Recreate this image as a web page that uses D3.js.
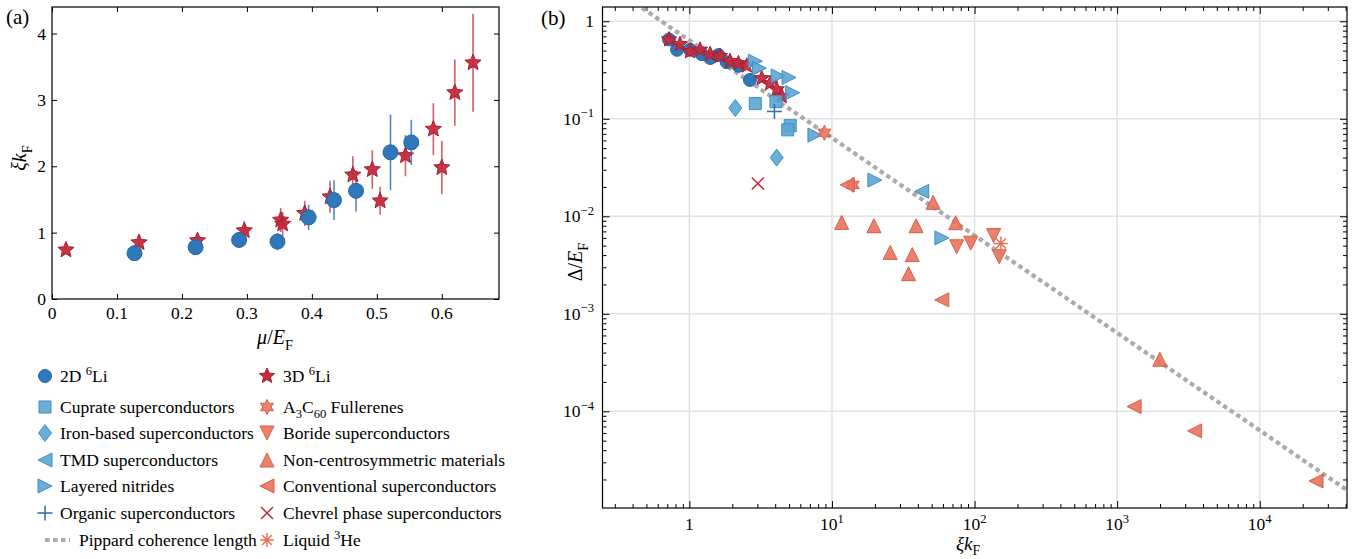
<!DOCTYPE html>
<html><head><meta charset="utf-8">
<script src="https://cdn.jsdelivr.net/npm/d3@7"></script>
<style>body{margin:0;background:#fff} svg{font-family:"Liberation Serif","DejaVu Serif",serif}</style>
</head><body><svg id="c" width="1360" height="559"></svg>
<script>
// ---------- Panel (a) data ----------
const a2d_mu  = [0.127, 0.221, 0.288, 0.347, 0.395, 0.434, 0.468, 0.521, 0.553];
const a2d_xi  = [0.69, 0.78, 0.89, 0.865, 1.23, 1.49, 1.63, 2.21, 2.36];
const a2d_err = [0.04, 0.04, 0.05, 0.13, 0.19, 0.30, 0.31, 0.57, 0.34];
const a3d_mu  = [0.0215, 0.134, 0.224, 0.296, 0.352, 0.355, 0.389, 0.428, 0.463, 0.493, 0.505, 0.544, 0.587, 0.600, 0.620, 0.648];
const a3d_xi  = [0.74, 0.85, 0.88, 1.03, 1.19, 1.13, 1.29, 1.54, 1.87, 1.95, 1.48, 2.16, 2.56, 1.98, 3.11, 3.56];
const a3d_err = [0.04, 0.05, 0.07, 0.14, 0.18, 0.18, 0.19, 0.24, 0.28, 0.29, 0.21, 0.31, 0.39, 0.40, 0.50, 0.74];
const aXTicks = [0, 0.1, 0.2, 0.3, 0.4, 0.5, 0.6];
const aYTicks = [0, 1, 2, 3, 4];

// ---------- Panel (b) data (xi*kF, Delta/EF) ----------
const b2d_xi  = [0.72, 0.82, 1.01, 1.22, 1.40, 1.60, 1.83, 2.21, 2.66];
const b2d_gap = [0.65, 0.51, 0.51, 0.46, 0.42, 0.45, 0.38, 0.35, 0.25];
const b3d_xi  = [0.72, 0.86, 1.01, 1.19, 1.40, 1.64, 1.93, 2.21, 2.53, 3.22, 3.68, 4.10, 4.45];
const b3d_gap = [0.65, 0.58, 0.49, 0.51, 0.46, 0.44, 0.39, 0.37, 0.35, 0.26, 0.23, 0.20, 0.17];
const cuprate_xi  = [2.9, 4.05, 5.1, 4.9];
const cuprate_gap = [0.143, 0.150, 0.085, 0.077];
const iron_xi  = [2.1, 4.1];
const iron_gap = [0.129, 0.040];
const tmd_xi  = [42.6];
const tmd_gap = [0.018];
const nitride_xi  = [2.9, 3.1, 4.2, 5.0, 5.3, 7.6, 20, 59];
const nitride_gap = [0.39, 0.33, 0.275, 0.265, 0.185, 0.068, 0.0235, 0.006];
const organic_xi  = [3.95];
const organic_gap = [0.119];
const fuller_xi  = [8.85, 14.0];
const fuller_gap = [0.0718, 0.021];
const boride_xi  = [74.9, 94.0, 136, 149];
const boride_gap = [0.00487, 0.0053, 0.00634, 0.00385];
const noncent_xi  = [11.7, 19.7, 38.9, 73.7, 51.2, 25.6, 36.6, 34.4, 1990];
const noncent_gap = [0.00865, 0.0080, 0.0080, 0.0086, 0.0139, 0.00426, 0.00405, 0.00258, 0.000342];
const conv_xi  = [12.8, 58.9, 1314, 3493, 24800];
const conv_gap = [0.021, 0.00139, 0.000112, 0.000063, 0.0000193];
const chevrel_xi  = [3.02];
const chevrel_gap = [0.0217];
const he3_xi  = [153];
const he3_gap = [0.00526];
const pippardCoef = 2 / Math.PI;
const bXMajor = [1, 10, 100, 1000, 10000];
const bYMajor = [1, 0.1, 0.01, 0.001, 0.0001];

// ---------- styles ----------
const C2D = "#2f78b9", C2Dedge = "#2765a6";
const C3D = "#c42a3c", C3Dedge = "#a5202f";
const CLB = "#5ba5d2", CLBedge = "#3d8fc4";
const COR = "#e6735d", CORedge = "#d95e47";
const FS = 17.5;

const svg = d3.select("#c");

function starPath(n, ro, ri) {
  let p = "";
  for (let i = 0; i < 2 * n; i++) {
    const r = i % 2 ? ri : ro;
    const a = -Math.PI / 2 + i * Math.PI / n;
    p += (i ? "L" : "M") + (r * Math.cos(a)).toFixed(2) + "," + (r * Math.sin(a)).toFixed(2);
  }
  return p + "Z";
}
function markerPath(type, s) {
  switch (type) {
    case "circle": return d3.symbol(d3.symbolCircle, Math.PI * s * s)();
    case "square": return `M${-s},${-s}H${s}V${s}H${-s}Z`;
    case "diamond": return `M0,${-s * 1.3}L${s},0L0,${s * 1.3}L${-s},0Z`;
    case "up": return `M0,${-s}L${s},${s}L${-s},${s}Z`;
    case "down": return `M0,${s}L${s},${-s}L${-s},${-s}Z`;
    case "left": return `M${-s},0L${s},${-s}L${s},${s}Z`;
    case "right": return `M${s},0L${-s},${-s}L${-s},${s}Z`;
    case "star5": return starPath(5, s, s * 0.45);
    case "star6": return starPath(6, s, s * 0.55);
    case "plus": return `M${-s},0H${s}M0,${-s}V${s}`;
    case "x": return `M${-s},${-s}L${s},${s}M${-s},${s}L${s},${-s}`;
    case "aster": {
      let p = "";
      for (let i = 0; i < 4; i++) { const a = i * Math.PI / 4; p += `M${(-s * Math.cos(a)).toFixed(2)},${(-s * Math.sin(a)).toFixed(2)}L${(s * Math.cos(a)).toFixed(2)},${(s * Math.sin(a)).toFixed(2)}`; }
      return p;
    }
  }
}
function drawMarker(g, type, s, x, y, fill, edge, op) {
  const lineType = (type === "plus" || type === "x" || type === "aster");
  return g.append("path").attr("d", markerPath(type, s))
    .attr("transform", `translate(${x},${y})`)
    .attr("fill", lineType ? "none" : fill)
    .attr("fill-opacity", op)
    .attr("stroke", lineType ? fill : edge)
    .attr("stroke-width", lineType ? 1.5 : 1);
}

// rich text helper: parts [{t, it, sub, sup}]
function rich(sel, parts, size) {
  let shift = 0;
  parts.forEach(p => {
    const ts = sel.append("tspan").text(p.t);
    let target = 0;
    if (p.sub) target = size * 0.28;
    if (p.sup) target = -size * 0.42;
    const dy = target - shift;
    if (dy !== 0) ts.attr("dy", dy);
    shift = target;
    if (p.it) ts.attr("font-style", "italic");
    if (p.sub || p.sup) ts.attr("font-size", size * 0.72);
  });
  return sel;
}

// ================= Panel (a) =================
const xa = d3.scaleLinear().domain([0, 0.688]).range([52, 499]);
const ya = d3.scaleLinear().domain([0, 4.4]).range([299, 7]);
const ga = svg.append("g");

function tickAxis(g, axisFn, scale, ticks, size, transform) {
  const ax = g.append("g").attr("transform", transform)
    .call(axisFn(scale).tickValues(ticks).tickSize(size).tickFormat(""));
  ax.select(".domain").remove();
  ax.selectAll("line").attr("stroke", "#000").attr("stroke-width", 1);
}
tickAxis(ga, d3.axisBottom, xa, aXTicks, -5, "translate(0,299)");
tickAxis(ga, d3.axisTop, xa, aXTicks, -5, "translate(0,7)");
tickAxis(ga, d3.axisLeft, ya, aYTicks, -5, "translate(52,0)");
tickAxis(ga, d3.axisRight, ya, aYTicks, -5, "translate(499,0)");
ga.append("rect").attr("x", 52).attr("y", 7).attr("width", 447).attr("height", 292)
  .attr("fill", "none").attr("stroke", "#000").attr("stroke-width", 1.2);

ga.selectAll(".xl").data(aXTicks).join("text").attr("x", d => xa(d)).attr("y", 319)
  .attr("text-anchor", "middle").attr("font-size", FS).text(d => d === 0 ? "0" : d3.format(".1f")(d));
ga.selectAll(".yl").data(aYTicks).join("text").attr("x", 46).attr("y", d => ya(d) + 6)
  .attr("text-anchor", "end").attr("font-size", FS).text(d => d);

// error bars
a2d_mu.forEach((m, i) => ga.append("line").attr("x1", xa(m)).attr("x2", xa(m))
  .attr("y1", ya(a2d_xi[i] - a2d_err[i])).attr("y2", ya(a2d_xi[i] + a2d_err[i]))
  .attr("stroke", C2D).attr("stroke-width", 1.6).attr("opacity", 0.85));
a3d_mu.forEach((m, i) => ga.append("line").attr("x1", xa(m)).attr("x2", xa(m))
  .attr("y1", ya(a3d_xi[i] - a3d_err[i])).attr("y2", ya(a3d_xi[i] + a3d_err[i]))
  .attr("stroke", C3D).attr("stroke-width", 1.6).attr("opacity", 0.75));
a3d_mu.forEach((m, i) => drawMarker(ga, "star5", 8.5, xa(m), ya(a3d_xi[i]), C3D, C3Dedge, 0.95));
a2d_mu.forEach((m, i) => drawMarker(ga, "circle", 7.5, xa(m), ya(a2d_xi[i]), C2D, C2Dedge, 1));

ga.append("text").attr("x", 6).attr("y", 24).attr("font-size", 21).text("(a)");
rich(ga.append("text").attr("text-anchor", "middle").attr("font-size", 20)
  .attr("transform", "translate(26,158) rotate(-90)"),
  [{t: "ξk", it: true}, {t: "F", sub: true}], 20);
rich(ga.append("text").attr("x", 275).attr("y", 344).attr("text-anchor", "middle").attr("font-size", 20),
  [{t: "μ", it: true}, {t: "/"}, {t: "E", it: true}, {t: "F", sub: true}], 20);

// ================= Panel (b) =================
const xb = d3.scaleLog().domain([0.246, 40900]).range([602.5, 1347]);
const yb = d3.scaleLog().domain([1.02e-5, 1.4]).range([508, 7]);
const gb = svg.append("g");
const L = 602.5, R = 1347, T = 7, B = 508;

// grid
gb.selectAll(".gx").data(bXMajor).join("line").attr("x1", d => xb(d)).attr("x2", d => xb(d))
  .attr("y1", T).attr("y2", B).attr("stroke", "#e2e2e2").attr("stroke-width", 1.5);
gb.selectAll(".gy").data(bYMajor).join("line").attr("y1", d => yb(d)).attr("y2", d => yb(d))
  .attr("x1", L).attr("x2", R).attr("stroke", "#e2e2e2").attr("stroke-width", 1.5);

const xAll = xb.ticks().filter(d => d > 0.246 && d < 40900);
const yAll = yb.ticks().filter(d => d > 1.02e-5 && d < 1.4);
const isMajor = d => Math.abs(Math.log10(d) - Math.round(Math.log10(d))) < 1e-6;
const xMin = xAll.filter(d => !isMajor(d)), yMin = yAll.filter(d => !isMajor(d));
tickAxis(gb, d3.axisBottom, xb, bXMajor, -7, `translate(0,${B})`);
tickAxis(gb, d3.axisTop, xb, bXMajor, -7, `translate(0,${T})`);
tickAxis(gb, d3.axisBottom, xb, xMin, -4, `translate(0,${B})`);
tickAxis(gb, d3.axisTop, xb, xMin, -4, `translate(0,${T})`);
tickAxis(gb, d3.axisLeft, yb, bYMajor, -7, `translate(${L},0)`);
tickAxis(gb, d3.axisRight, yb, bYMajor, -7, `translate(${R},0)`);
tickAxis(gb, d3.axisLeft, yb, yMin, -4, `translate(${L},0)`);
tickAxis(gb, d3.axisRight, yb, yMin, -4, `translate(${R},0)`);

// clip
svg.append("defs").append("clipPath").attr("id", "clipb").append("rect")
  .attr("x", L).attr("y", T).attr("width", R - L).attr("height", B - T);

const gp = gb.append("g").attr("clip-path", "url(#clipb)");
const pipX = [0.246, 40900];
gp.append("path").datum(pipX)
  .attr("d", d3.line().x(d => xb(d)).y(d => yb(pippardCoef / d)))
  .attr("stroke", "#ababab").attr("stroke-width", 4.2).attr("stroke-dasharray", "4.5,3.5").attr("fill", "none");

function series(xs, ys, type, s, fill, edge, op) {
  xs.forEach((x, i) => drawMarker(gp, type, s, xb(x), yb(ys[i]), fill, edge, op));
}
series(b2d_xi, b2d_gap, "circle", 6.5, C2D, C2Dedge, 1);
series(b3d_xi, b3d_gap, "star5", 8, C3D, C3Dedge, 0.95);
series(cuprate_xi, cuprate_gap, "square", 6, CLB, CLBedge, 0.9);
series(iron_xi, iron_gap, "diamond", 6.5, CLB, CLBedge, 0.9);
series(tmd_xi, tmd_gap, "left", 7, CLB, CLBedge, 0.9);
series(nitride_xi, nitride_gap, "right", 7, CLB, CLBedge, 0.9);
series(organic_xi, organic_gap, "plus", 7.5, "#2f6cb0", null, 1);
series(fuller_xi, fuller_gap, "star6", 7.5, COR, CORedge, 0.9);
series(boride_xi, boride_gap, "down", 7, COR, CORedge, 0.9);
series(noncent_xi, noncent_gap, "up", 7, COR, CORedge, 0.9);
series(conv_xi, conv_gap, "left", 7, COR, CORedge, 0.9);
series(chevrel_xi, chevrel_gap, "x", 6, C3D, null, 1);
series(he3_xi, he3_gap, "aster", 7, COR, null, 1);

gb.append("rect").attr("x", L).attr("y", T).attr("width", R - L).attr("height", B - T)
  .attr("fill", "none").attr("stroke", "#000").attr("stroke-width", 1.2);

// tick labels
bXMajor.forEach(d => {
  const t = gb.append("text").attr("x", xb(d)).attr("y", 530).attr("text-anchor", "middle").attr("font-size", FS);
  if (d === 1) t.text("1");
  else rich(t, [{t: "10"}, {t: String(Math.round(Math.log10(d))), sup: true}], FS);
});
bYMajor.forEach(d => {
  const t = gb.append("text").attr("x", 594).attr("y", yb(d) + 6).attr("text-anchor", "end").attr("font-size", FS);
  if (d === 1) t.text("1");
  else rich(t, [{t: "10"}, {t: "−" + Math.round(-Math.log10(d)), sup: true}], FS);
});

gb.append("text").attr("x", 541).attr("y", 25).attr("font-size", 21).text("(b)");
rich(gb.append("text").attr("x", 968).attr("y", 550).attr("text-anchor", "middle").attr("font-size", 19),
  [{t: "ξk", it: true}, {t: "F", sub: true}], 19);
rich(gb.append("text").attr("text-anchor", "middle").attr("font-size", 20)
  .attr("transform", "translate(582,262) rotate(-90)"),
  [{t: "Δ/"}, {t: "E", it: true}, {t: "F", sub: true}], 20);

// ================= Legend =================
const gl = svg.append("g");
const legLeft = [
  {m: "circle", s: 6.5, f: C2D, e: C2Dedge, y: 376, parts: [{t: "2D "}, {t: "6", sup: true}, {t: "Li"}]},
  {m: "square", s: 6, f: CLB, e: CLBedge, y: 407, parts: [{t: "Cuprate superconductors"}]},
  {m: "diamond", s: 6.5, f: CLB, e: CLBedge, y: 433, parts: [{t: "Iron-based superconductors"}]},
  {m: "left", s: 7, f: CLB, e: CLBedge, y: 460, parts: [{t: "TMD superconductors"}]},
  {m: "right", s: 7, f: CLB, e: CLBedge, y: 486, parts: [{t: "Layered nitrides"}]},
  {m: "plus", s: 7.5, f: "#2f6cb0", e: null, y: 513, parts: [{t: "Organic superconductors"}]},
  {m: "pip", y: 540, parts: [{t: "Pippard coherence length"}]}
];
const legRight = [
  {m: "star5", s: 8, f: C3D, e: C3Dedge, y: 376, parts: [{t: "3D "}, {t: "6", sup: true}, {t: "Li"}]},
  {m: "star6", s: 7.5, f: COR, e: CORedge, y: 407, parts: [{t: "A"}, {t: "3", sub: true}, {t: "C"}, {t: "60", sub: true}, {t: " Fullerenes"}]},
  {m: "down", s: 7, f: COR, e: CORedge, y: 433, parts: [{t: "Boride superconductors"}]},
  {m: "up", s: 7, f: COR, e: CORedge, y: 460, parts: [{t: "Non-centrosymmetric materials"}]},
  {m: "left", s: 7, f: COR, e: CORedge, y: 486, parts: [{t: "Conventional superconductors"}]},
  {m: "x", s: 6, f: C3D, e: null, y: 513, parts: [{t: "Chevrel phase superconductors"}]},
  {m: "aster", s: 7, f: COR, e: null, y: 540, parts: [{t: "Liquid "}, {t: "3", sup: true}, {t: "He"}]}
];
function legendCol(items, mx, tx) {
  items.forEach(it => {
    if (it.m === "pip") {
      gl.append("line").attr("x1", mx).attr("x2", mx + 25).attr("y1", it.y).attr("y2", it.y)
        .attr("stroke", "#ababab").attr("stroke-width", 4.2).attr("stroke-dasharray", "4.5,3.5");
      rich(gl.append("text").attr("x", mx + 34).attr("y", it.y + 6).attr("font-size", FS), it.parts, FS);
    } else {
      drawMarker(gl, it.m, it.s, mx, it.y, it.f, it.e, it.m === "circle" || it.m === "star5" ? 1 : 0.9);
      rich(gl.append("text").attr("x", tx).attr("y", it.y + 6).attr("font-size", FS), it.parts, FS);
    }
  });
}
legendCol(legLeft, 45, 60);
legendCol(legRight, 267, 283);
</script></body></html>
